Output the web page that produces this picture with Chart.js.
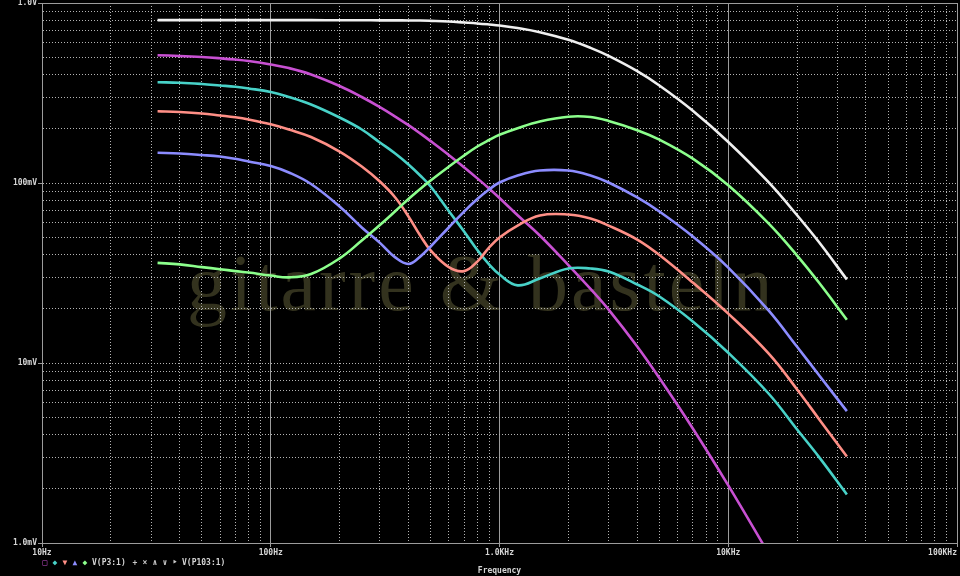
<!DOCTYPE html>
<html><head><meta charset="utf-8">
<script src="https://cdn.jsdelivr.net/npm/chart.js@4/dist/chart.umd.min.js"></script>
<style>html,body{margin:0;padding:0;background:#000;overflow:hidden}#c{display:block}</style>
</head><body>
<canvas id="c" width="960" height="576"></canvas>
<script>
// ---- data (frequency in Hz, voltage in mV) ----
const frequencies = [32,40,50,60,70,80,100,120,150,200,250,300,350,400,450,500,600,700,800,900,1000,1200,1500,2000,2500,3000,4000,5000,7000,10000,15000,20000,25000,33000];
const whiteV   = [803,803,803,803,803,803,803,803,803,802,802,801,801,800,799,796,789,779,770,760,750,726,688,624,563,508,418,348,252,169,101,66.2,46.7,29.1];
const magentaV = [513,508,501,493,485,476,455,435,401,346,300.5,264,234,209.5,188.6,170.9,143.1,122.1,106.1,93.3,82.6,66.2,51.1,35.0,25.8,19.8,12.35,8.25,4.33,2.09,0.874,0.467,0.287,0.155];
const cyanV    = [363,360.7,354.8,348.1,342.3,335,320.3,300.5,273,231.1,198.3,167.9,145.8,126.7,110.1,95.6,69.9,53.8,42.4,35.3,31.0,27.0,29.5,33.5,33.5,32.2,27.3,23.4,17.0,11.4,6.77,4.27,2.99,1.86];
const salmonV  = [250.6,248,243.3,237.1,231.7,225.3,211.9,198.3,180.1,149.6,123.5,101.9,83.1,65.2,51.1,42.2,34.1,32.4,36.6,43.8,49.8,58.0,66.0,66.8,63.5,58.0,48.5,39.8,28.0,18.8,11.3,7.13,4.86,3.02];
const blueV    = [147.2,145.8,143.1,140.4,136.3,131.7,124.3,114.4,98.7,74.0,56.6,46.5,38.6,35.5,39.0,44.4,56.6,69.4,81.5,92.0,100.6,110.1,117.3,117.3,110.1,100.6,83.1,69.4,50.4,33.9,19.6,12.3,8.52,5.40];
const greenV   = [36.0,35.3,34.1,33.2,32.4,31.8,30.6,29.9,31.2,38.1,47.9,58.4,69.7,81.5,92.7,103.3,123.2,142.2,159.5,173.3,185.3,201.6,219.6,233.5,232.6,221.0,196.5,174.0,136.5,97.1,59.6,39.5,27.8,17.4];

const xTickValues = [10,100,1000,10000,100000];
const xTickLabels = ['10Hz','100Hz','1.0KHz','10KHz','100KHz      '];
const yTickValues = [1,10,100,1000];
const yTickLabels = ['1.0mV','10mV','100mV','1.0V'];
const xTitle = 'Frequency';
const watermark = 'gitarre & basteln';
const legendA = 'V(P3:1)';
const legendB = 'V(P103:1)';

// ---- helpers ----
function decadeTicks(min, max){
  const out=[];
  for(let e=Math.round(Math.log10(min)); e<Math.round(Math.log10(max)); e++){
    for(let s=1;s<=9;s++) out.push(s*Math.pow(10,e));
  }
  out.push(max);
  return out;
}
const near=(a,b)=>Math.abs(a-b)/b<1e-6;
function labelFor(v, vals, labs){
  for(let i=0;i<vals.length;i++) if(near(v,vals[i])) return labs[i];
  return '';
}
const isIn=(v,arr)=>arr.some(a=>near(v,a));
function pts(arr){ return frequencies.map((f,i)=>({x:f,y:arr[i]})); }

const GRID='#b4b4b4', SOLID='#9c9c9c', TXT='#d6d6d6';
const DASH=[1,2];
const tickFont={family:'DejaVu Sans Mono',size:8,weight:'bold'};

const bgPlugin={
  id:'bg',
  beforeDraw(chart){
    const c=chart.ctx;
    c.save();
    c.fillStyle='#000'; c.fillRect(0,0,chart.width,chart.height);
    c.fillStyle='#33321e';
    c.font='80px "Liberation Serif"';
    try{ c.letterSpacing='3px'; }catch(e){}
    c.textBaseline='alphabetic'; c.textAlign='left';
    c.fillText(watermark,187,310);
    c.restore();
  },
  afterDraw(chart){
    const c=chart.ctx;
    c.save();
    c.font='bold 8px "DejaVu Sans Mono"';
    c.textBaseline='middle'; c.textAlign='center';
    const y=563;
    const syms=[['□','#c850d2',45],['◆','#48d2c8',55],['▼','#ff8f86',65],['▲','#8c8cff',75],['◆','#8cff8c',85]];
    syms.forEach(s=>{c.fillStyle=s[1];c.fillText(s[0],s[2],y);});
    c.fillStyle=TXT; c.textAlign='left'; c.fillText(legendA,92,y);
    c.textAlign='center';
    [['+',135],['×',145],['∧',155],['∨',165],['‣',175]].forEach(s=>{c.fillStyle='#c8c8c8';c.fillText(s[0],s[1],y);});
    c.fillStyle=TXT; c.textAlign='left'; c.fillText(legendB,182,y);
    c.restore();
  }
};

const ds=(data,color)=>({data:pts(data),borderColor:color,backgroundColor:color,borderWidth:2.6,pointRadius:0,tension:0.4,fill:false});

new Chart(document.getElementById('c'),{
  type:'line',
  data:{datasets:[
    ds(greenV,'#8cff8c'),
    ds(blueV,'#8c8cff'),
    ds(salmonV,'#ff8f86'),
    ds(cyanV,'#48d2c8'),
    ds(magentaV,'#c850d2'),
    ds(whiteV,'#f0f0f0')
  ]},
  options:{
    responsive:false, animation:false, devicePixelRatio:1,
    layout:{autoPadding:false,padding:{top:3,right:3,left:0,bottom:0}},
    plugins:{legend:{display:false},tooltip:{enabled:false}},
    scales:{
      x:{type:'logarithmic',min:10,max:100000,
        afterFit(s){s.height=33;s.paddingLeft=0;s.paddingRight=0;},
        afterBuildTicks(s){s.ticks=decadeTicks(10,100000).map(v=>({value:v}));},
        ticks:{autoSkip:false,maxRotation:0,minRotation:0,color:TXT,font:tickFont,padding:1,
          callback:(v)=>labelFor(v,xTickValues,xTickLabels)},
        grid:{lineWidth:1,tickLength:4,
          color:(ctx)=>ctx.tick&&isIn(ctx.tick.value,xTickValues)?SOLID:GRID,
          tickColor:(ctx)=>ctx.tick&&isIn(ctx.tick.value,xTickValues)?SOLID:'rgba(0,0,0,0)'},
        border:{display:true,color:SOLID,width:1,
          dash:(ctx)=>(ctx.tick&&!isIn(ctx.tick.value,xTickValues))?DASH:[]},
        title:{display:true,text:xTitle,color:TXT,font:tickFont,padding:0}
      },
      y:{type:'logarithmic',min:1,max:1000,
        afterFit(s){s.width=42;s.paddingTop=0;s.paddingBottom=0;},
        afterBuildTicks(s){s.ticks=decadeTicks(1,1000).map(v=>({value:v}));},
        ticks:{autoSkip:false,color:TXT,font:tickFont,padding:1,
          callback:(v)=>labelFor(v,yTickValues,yTickLabels)},
        grid:{lineWidth:1,tickLength:4,
          color:(ctx)=>ctx.tick&&(near(ctx.tick.value,1)||near(ctx.tick.value,1000))?SOLID:GRID,
          tickColor:(ctx)=>ctx.tick&&isIn(ctx.tick.value,yTickValues)?SOLID:'rgba(0,0,0,0)'},
        border:{display:true,color:SOLID,width:1,
          dash:(ctx)=>(ctx.tick&&!(near(ctx.tick.value,1)||near(ctx.tick.value,1000)))?DASH:[]}
      }
    }
  },
  plugins:[bgPlugin]
});
</script>
</body></html>
